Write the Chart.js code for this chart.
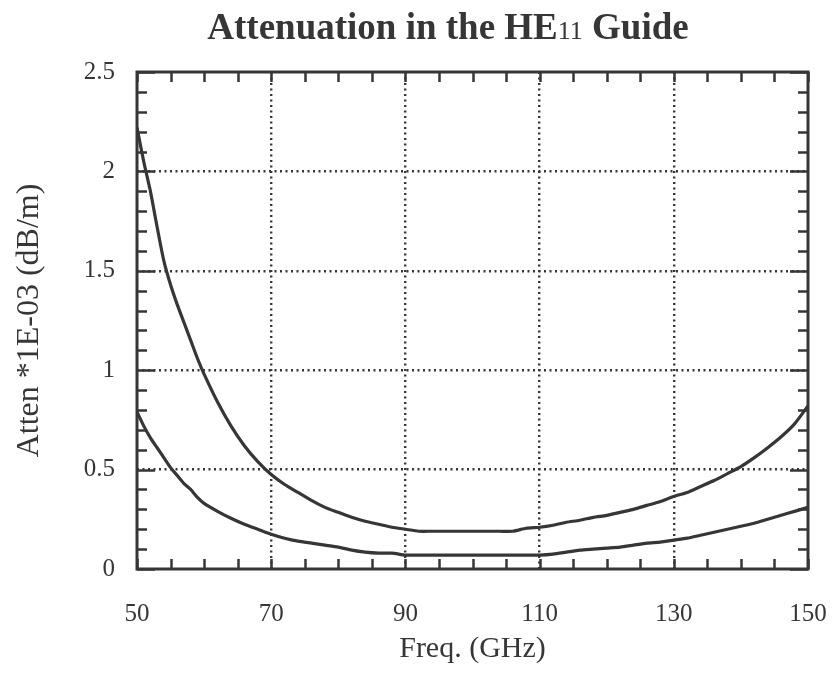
<!DOCTYPE html>
<html>
<head>
<meta charset="utf-8">
<script src="https://cdn.jsdelivr.net/npm/chart.js@4/dist/chart.umd.min.js"></script>
<style>
  html, body { margin: 0; padding: 0; background: #fff; }
  #wrap { width: 838px; height: 673px; position: relative; }
</style>
</head>
<body>
<div id="wrap"><canvas id="c" width="838" height="673"></canvas></div>
<script>
// ---- Data ----
const chartTitle = ["Attenuation in the HE", "11", " Guide"];
const xAxisTitle = "Freq. (GHz)";
const yAxisTitle = "Atten *1E-03 (dB/m)";

const freqGHz = [50, 51, 52, 53, 54, 55, 56, 57, 58, 59, 60, 62, 64, 66, 68, 70, 72, 74, 76, 78, 80,
  82, 84, 86, 88, 90, 92, 94, 96, 98, 100, 102, 104, 106, 108, 110, 112, 114, 116, 118, 120,
  122, 124, 126, 128, 130, 132, 134, 136, 138, 140, 142, 144, 146, 148, 150];

const attenUpper = [2.22, 2.05, 1.90, 1.72, 1.55, 1.43, 1.33, 1.24, 1.15, 1.06, 0.98, 0.84, 0.72, 0.62, 0.54, 0.475, 0.425, 0.385, 0.345, 0.31, 0.285,
  0.26, 0.24, 0.225, 0.21, 0.20, 0.19, 0.19, 0.19, 0.19, 0.19, 0.19, 0.19, 0.19, 0.205, 0.21, 0.22, 0.235, 0.245, 0.26, 0.27,
  0.285, 0.30, 0.32, 0.34, 0.365, 0.385, 0.415, 0.445, 0.48, 0.515, 0.56, 0.61, 0.665, 0.73, 0.82];

const attenLower = [0.79, 0.72, 0.66, 0.61, 0.56, 0.51, 0.47, 0.43, 0.40, 0.36, 0.33, 0.29, 0.255, 0.225, 0.20, 0.175, 0.155, 0.14, 0.13, 0.12, 0.11,
  0.095, 0.085, 0.08, 0.08, 0.07, 0.07, 0.07, 0.07, 0.07, 0.07, 0.07, 0.07, 0.07, 0.07, 0.07, 0.075, 0.085, 0.095, 0.10, 0.105,
  0.11, 0.12, 0.13, 0.135, 0.145, 0.155, 0.17, 0.185, 0.20, 0.215, 0.23, 0.25, 0.27, 0.29, 0.31];

const xTickValues = [50, 70, 90, 110, 130, 150];
const yTickValues = [0, 0.5, 1, 1.5, 2, 2.5];
const xMinorStep = 5;
const yMinorStep = 0.1;

// ---- Styling ----
const INK = '#363636';
const SERIF = '"Liberation Serif", "DejaVu Serif", serif';

const toPts = (xs, ys) => xs.map((x, i) => ({ x: x, y: ys[i] }));

// Title with smaller "11" part
const titlePlugin = {
  id: 'titlePlugin',
  afterDraw(chart) {
    const ctx = chart.ctx;
    ctx.save();
    ctx.fillStyle = INK;
    ctx.textBaseline = 'alphabetic';
    const fBold = 'bold 37px ' + SERIF;
    const fSmall = '26px ' + SERIF;
    ctx.font = fBold;
    const w1 = ctx.measureText(chartTitle[0]).width;
    const w3 = ctx.measureText(chartTitle[2]).width;
    ctx.font = fSmall;
    const w2 = ctx.measureText(chartTitle[1]).width;
    const total = w1 + w2 + w3;
    const cx = 448;
    let x = cx - total / 2;
    const base = 39;
    ctx.font = fBold; ctx.fillText(chartTitle[0], x, base); x += w1;
    ctx.font = fSmall; ctx.fillText(chartTitle[1], x, base); x += w2;
    ctx.font = fBold; ctx.fillText(chartTitle[2], x, base);
    ctx.restore();
  }
};

// Inward tick marks on all four sides and the frame
const framePlugin = {
  id: 'framePlugin',
  afterDatasetsDraw(chart) {
    const { ctx, chartArea: a, scales } = chart;
    const xs = scales.x, ys = scales.y;
    ctx.save();
    ctx.strokeStyle = INK;
    ctx.lineWidth = 2.5;
    ctx.lineCap = 'butt';
    const nx = Math.round((xs.max - xs.min) / xMinorStep);
    for (let i = 0; i <= nx; i++) {
      const v = xs.min + i * xMinorStep;
      const px = Math.round(xs.getPixelForValue(v)) + 0.5;
      const len = 10;
      ctx.beginPath();
      ctx.moveTo(px, a.bottom); ctx.lineTo(px, a.bottom - len);
      ctx.moveTo(px, a.top); ctx.lineTo(px, a.top + len);
      ctx.stroke();
    }
    const ny = Math.round((ys.max - ys.min) / yMinorStep);
    for (let i = 0; i <= ny; i++) {
      const v = ys.min + i * yMinorStep;
      const py = Math.round(ys.getPixelForValue(v)) + 0.5;
      const len = (i % 5 === 0) ? 18 : 10;
      ctx.beginPath();
      ctx.moveTo(a.left, py); ctx.lineTo(a.left + len, py);
      ctx.moveTo(a.right, py); ctx.lineTo(a.right - len, py);
      ctx.stroke();
    }
    ctx.lineWidth = 3;
    ctx.strokeRect(a.left, a.top, a.right - a.left, a.bottom - a.top);
    ctx.restore();
  }
};

const gridColor = (ctx) => {
  const s = ctx.scale;
  const v = ctx.tick ? ctx.tick.value : null;
  if (v === null || v === s.min || v === s.max) return 'rgba(0,0,0,0)';
  return INK;
};

new Chart(document.getElementById('c'), {
  type: 'line',
  data: {
    datasets: [
      { label: 'upper', data: toPts(freqGHz, attenUpper), borderColor: INK, borderWidth: 3.2, pointRadius: 0, tension: 0.2, fill: false },
      { label: 'lower', data: toPts(freqGHz, attenLower), borderColor: INK, borderWidth: 3.2, pointRadius: 0, tension: 0.2, fill: false }
    ]
  },
  options: {
    responsive: false,
    animation: false,
    devicePixelRatio: 1,
    layout: { padding: { left: 0, right: 30, top: 72, bottom: 0 } },
    plugins: { legend: { display: false }, tooltip: { enabled: false }, title: { display: false } },
    scales: {
      x: {
        type: 'linear', min: 50, max: 150,
        afterBuildTicks: (s) => { s.ticks = xTickValues.map(v => ({ value: v })); },
        afterFit: (s) => { s.height = 104; s.paddingLeft = 0; s.paddingRight = 0; },
        border: { display: false, dash: [2, 3.5] },
        grid: { color: gridColor, lineWidth: 2.4, drawTicks: false },
        ticks: { color: INK, font: { family: SERIF, size: 25 }, padding: 30, maxRotation: 0, autoSkip: false,
                 callback: (v) => String(v) },
        title: { display: true, text: xAxisTitle, color: INK, font: { family: SERIF, size: 30 }, padding: { top: 0, bottom: 6 } }
      },
      y: {
        type: 'linear', min: 0, max: 2.5,
        afterBuildTicks: (s) => { s.ticks = yTickValues.map(v => ({ value: v })); },
        afterFit: (s) => { s.width = 137; s.paddingTop = 0; s.paddingBottom = 0; },
        border: { display: false, dash: [2, 3.5] },
        grid: { color: gridColor, lineWidth: 2.4, drawTicks: false },
        ticks: { color: INK, font: { family: SERIF, size: 25 }, padding: 22, autoSkip: false,
                 callback: (v) => String(v) },
        title: { display: true, text: yAxisTitle, color: INK, font: { family: SERIF, size: 32 }, padding: { top: 10, bottom: 0 } }
      }
    }
  },
  plugins: [framePlugin, titlePlugin]
});
</script>
</body>
</html>
